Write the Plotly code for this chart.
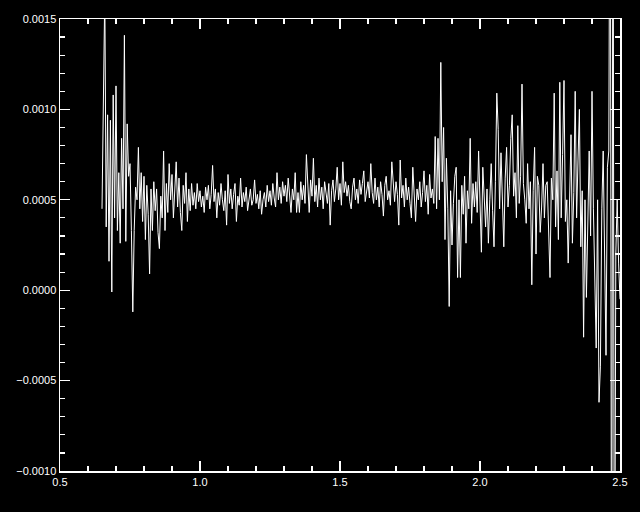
import numpy as np
import plotly.graph_objects as go

# Wavelength grid (microns), evenly sampled from 0.65 to 2.50
x_start = 0.65
x_end = 2.50

# Signal values in units of 1e-4
y_e4 = [
    4.5, 12.3, 16.5, 3.5, 9.7, 1.6, 9.4, -0.1, 10.8, 4.0,
    11.3, 3.3, 6.5, 2.6, 8.4, 4.5, 14.1, 2.7, 9.2, 6.3,
    7.0, 3.3, -1.2, 3.3, 5.7, 5.0, 7.9, 4.5, 6.5, 3.8,
    6.3, 2.8, 5.8, 4.2, 0.9, 5.6, 3.3, 6.0, 4.4, 5.6,
    3.2, 2.3, 5.2, 4.0, 7.7, 3.3, 5.9, 4.3, 7.0, 5.0,
    6.4, 4.0, 5.7, 7.1, 4.6, 6.2, 4.3, 3.3, 5.8, 4.8,
    6.5, 3.8, 5.6, 4.4, 5.9, 4.7, 5.4, 4.5, 5.9, 4.9,
    5.5, 4.6, 5.2, 4.3, 5.7, 5.0, 5.8, 4.5, 5.3, 6.9,
    4.9, 5.6, 4.0, 5.4, 4.7, 5.9, 5.0, 4.4, 5.5, 3.6,
    6.4, 4.8, 5.6, 4.5, 5.3, 5.9, 3.8, 5.2, 4.7, 6.2,
    4.6, 5.4, 4.9, 5.7, 4.4, 5.2, 5.6, 4.7, 5.0, 6.1,
    4.8, 5.3, 4.5, 5.5, 4.2, 5.0, 5.4, 4.6, 5.8, 4.9,
    5.5, 4.7, 5.9, 5.1, 4.6, 6.5, 5.0, 5.7, 4.8, 6.0,
    5.2, 5.8, 4.9, 6.2, 5.3, 4.3, 5.6, 5.0, 6.5, 4.3,
    5.4, 4.3, 6.0, 5.0, 5.8, 4.8, 7.5, 5.4, 4.3, 6.1,
    5.2, 7.3, 4.9, 5.8, 4.6, 6.2, 5.0, 5.7, 4.5, 6.0,
    5.3, 4.8, 5.9, 3.6, 5.5, 6.1, 4.9, 5.6, 6.8, 5.0,
    5.9, 4.7, 7.1, 5.4, 6.0, 5.2, 5.8, 4.9, 4.5, 5.7,
    6.2, 5.0, 5.6, 4.8, 6.1, 5.3, 5.9, 6.6, 4.9, 5.5,
    6.0, 5.1, 7.0, 5.4, 4.8, 6.2, 5.0, 5.7, 4.6, 6.0,
    5.3, 4.1, 5.8, 6.3, 5.0, 5.5, 4.7, 7.1, 5.6, 4.9,
    6.0, 5.3, 3.6, 7.2, 5.1, 5.8, 4.6, 6.2, 5.0, 5.7,
    4.8, 4.0, 6.8, 5.2, 3.8, 5.6, 5.0, 6.0, 4.6, 5.4,
    6.6, 4.9, 5.8, 4.2, 6.4, 5.1, 5.6, 4.8,
    8.5, 4.5, 8.4, 5.0, 12.6, 6.0, 9.0, 2.8, 7.3, 4.5, -0.9, 5.5,
    2.5, 4.8, 6.3, 6.8, 0.7, 5.0, 0.7, 5.8, 4.2, 6.3,
    2.6, 5.5, 4.5, 8.4, 3.7, 5.9, 4.6, 6.0, 4.3, 7.7,
    5.2, 2.1, 6.8, 4.8, 3.5, 5.6, 2.6, 5.0, 7.0, 4.4,
    2.4, 6.0, 10.9, 8.9, 4.5, 7.6, 5.5, 2.4, 6.2, 7.9,
    4.6, 5.8, 8.4, 9.7, 5.2, 6.5, 4.0, 9.1, 4.8, 6.3,
    11.4, 5.9, 5.0, 3.7, 7.0, 4.5, 6.0, 0.3, 5.5, 7.9,
    2.0, 6.3, 5.8, 3.2, 4.6, 7.0, 4.0, 5.8, 6.0, 3.5,
    0.7, 6.2, 5.0, 10.9, 3.5, 6.6, 2.8, 11.5, 4.0, 7.5,
    11.6, 3.8, 5.0, 1.5, 6.2, 8.6, 2.6, 5.4, 11.0, 4.0,
    7.2, 10.0, 2.4, 5.5, -2.6, 5.0, -0.4, 4.2, 7.7, 3.0,
    11.0, 4.5, 0.1, -3.2, 5.0, -6.2, -4.2, 4.5, 7.7, 3.0,
    -3.6, 6.8, 7.7, 30.0, -25.0, 30.0, -25.0, 2.0, 5.0, 1.5, -0.5,
]

x_ticks = [0.5, 1.0, 1.5, 2.0, 2.5]
y_ticks = [-0.0010, -0.0005, 0.0000, 0.0005, 0.0010, 0.0015]

y = np.array(y_e4) * 1e-4
x = np.linspace(x_start, x_end, len(y))

fig = go.Figure()
fig.add_trace(go.Scatter(x=x, y=y, mode="lines",
                         line=dict(color="white", width=1),
                         showlegend=False, hoverinfo="skip"))

axis_common = dict(
    showgrid=False, zeroline=False,
    showline=True, linecolor="white", linewidth=1.5,
    mirror="ticks", ticks="inside", ticklen=10, tickwidth=1.2,
    tickcolor="white",
    tickfont=dict(family="Liberation Sans, Arial, sans-serif", size=11, color="white"),
)

fig.update_xaxes(range=[0.5, 2.5], tickvals=x_ticks, tickformat=".1f",
                 minor=dict(dtick=0.1, ticks="inside", ticklen=5, tickcolor="white", tickwidth=1.2),
                 **axis_common)
fig.update_yaxes(range=[-0.0010, 0.0015], tickvals=y_ticks, tickformat=".4f",
                 minor=dict(dtick=0.0001, ticks="inside", ticklen=5, tickcolor="white", tickwidth=1.2),
                 **axis_common)

fig.update_layout(
    width=640, height=512,
    margin=dict(l=60, r=18, t=19, b=41),
    paper_bgcolor="black", plot_bgcolor="black",
)

fig.write_html("out.html",
               config={"displayModeBar": False, "staticPlot": True},
               post_script="document.body.style.margin='0';document.body.style.background='black';")
